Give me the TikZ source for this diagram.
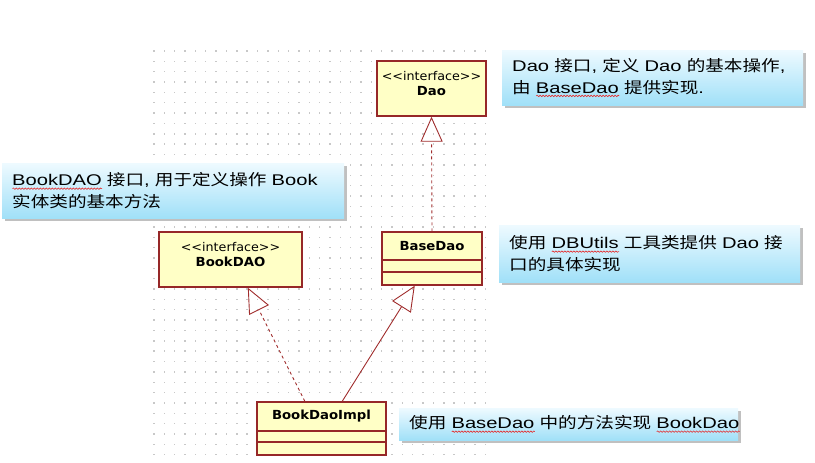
\documentclass[tikz,border=0pt]{standalone}
\usepackage{fontspec}
\usetikzlibrary{arrows.meta,calc,shadows,decorations.pathmorphing}
\newfontfamily\latinf[FakeStretch=1.3]{Liberation Sans}
\newfontfamily\cjk[FakeStretch=1.2]{Noto Sans CJK SC}
\newfontfamily\umlf[FakeStretch=1.06]{DejaVu Sans}
\newcommand\zh[1]{{\cjk #1}}
\definecolor{spellred}{RGB}{230,40,40}
\definecolor{umlred}{RGB}{150,40,40}
\definecolor{relred}{RGB}{160,45,45}
\definecolor{umlfill}{RGB}{255,255,198}
\definecolor{notetop}{RGB}{238,250,255}
\definecolor{notebot}{RGB}{160,224,248}
\definecolor{dotc}{RGB}{200,200,200}
\newsavebox\spellbox
\newlength\spellwd
\newcommand\spell[1]{\sbox\spellbox{#1}\setlength\spellwd{\wd\spellbox}%
  \rlap{\tikz[baseline=0pt,x=1pt,y=1pt]\draw[spellred, line width=0.6pt, decorate,
    decoration={snake, amplitude=0.7pt, segment length=3pt}] (0,-2.8) -- (\spellwd,-2.8);}%
  \usebox\spellbox}
\newcommand\nfont{\latinf\fontsize{15.5}{21.5}\selectfont}
\begin{document}
\begin{tikzpicture}[x=1pt,y=-1pt,
  umlbox/.style={draw=umlred, line width=1.4pt, fill=umlfill, inner sep=0pt},
  umltext/.style={font=\umlf\fontsize{12}{15.3}\selectfont, inner sep=0pt, align=center},
  umlname/.style={font=\umlf\bfseries\fontsize{12.5}{15}\selectfont, inner sep=0pt},
  notebox/.style={top color=notetop, bottom color=notebot, draw=none,
    drop shadow={shadow xshift=2.5pt, shadow yshift=-2.5pt, opacity=0.45, fill=black!55},
    inner xsep=10pt, inner ysep=0pt, align=left, anchor=north west, font=\nfont},
  rel/.style={draw=relred, line width=0.9pt},
  realize/.style={rel, dash pattern=on 3pt off 3pt},
  gen/.style={-{Triangle[open, length=25pt, width=22pt]}},
  sep/.style={draw=umlred, line width=1.4pt}
]
\useasboundingbox (0,0) rectangle (815,463);
% dot grid
\foreach \i in {0,...,32}{
  \foreach \j in {0,...,39}{
    \fill[dotc] ({154+\i*10.35-0.7},{51+\j*10.35-0.7}) rectangle +(1.4,1.4);
  }
}
% UML boxes
\node[umlbox, minimum width=109pt, minimum height=55pt] (dao) at (431.5,88.5) {};
\node[umltext] (daotxt) at (431.5,83.4) {<\kern0pt<interface>\kern0pt>\\[0pt]{\bfseries\fontsize{12.5}{15}\selectfont Dao}};
\node[umlbox, minimum width=143pt, minimum height=55pt] (bookdao) at (230.5,259.5) {};
\node[umltext] (bookdaotxt) at (230.5,254.5) {<\kern0pt<interface>\kern0pt>\\[0pt]{\bfseries\fontsize{12.5}{15}\selectfont BookDAO}};
\node[umlbox, minimum width=100pt, minimum height=53pt] (basedao) at (432,258.5) {};
\node[umlname] (basedaotxt) at (432,246) {BaseDao};
\draw[sep] (382,260) -- (482,260) (382,272) -- (482,272);
\node[umlbox, minimum width=129pt, minimum height=53pt] (impl) at (321.5,428.5) {};
\node[umlname] (impltxt) at (321.5,416) {BookDaoImpl};
\draw[sep] (257,431) -- (386,431) (257,442) -- (386,442);
% relations
\draw[realize, gen] (basedao.north) -- (dao.south);
\draw[realize, gen] ($(impl.north west)!0.372!(impl.north east)$) -- ($(bookdao.south west)!0.62!(bookdao.south east)$);
\draw[rel, gen] ($(impl.north west)!0.659!(impl.north east)$) -- ($(basedao.south west)!0.33!(basedao.south east)$);
% notes
\node[notebox, text width=281pt, minimum height=55pt] (note1) at (502,50)
  {\mbox{Dao \zh{接口}, \zh{定义} Dao \zh{的基本操作},}\\\mbox{\zh{由} \spell{BaseDao} \zh{提供实现}.}};
\node[notebox, text width=322pt, minimum height=55pt] (note2) at (2,163)
  {\mbox{\spell{BookDAO} \zh{接口}, \zh{用于定义操作} Book}\\\mbox{\zh{实体类的基本方法}}};
\node[notebox, text width=281pt, minimum height=57pt] (note3) at (499,225)
  {\mbox{\zh{使用} \spell{DBUtils} \zh{工具类提供} Dao \zh{接}}\\\mbox{\zh{口的具体实现}}};
\node[notebox, text width=319pt, minimum height=32pt] (note4) at (399,408)
  {\mbox{\zh{使用} \spell{BaseDao} \zh{中的方法实现} \spell{BookDao}}};
\end{tikzpicture}
\end{document}
